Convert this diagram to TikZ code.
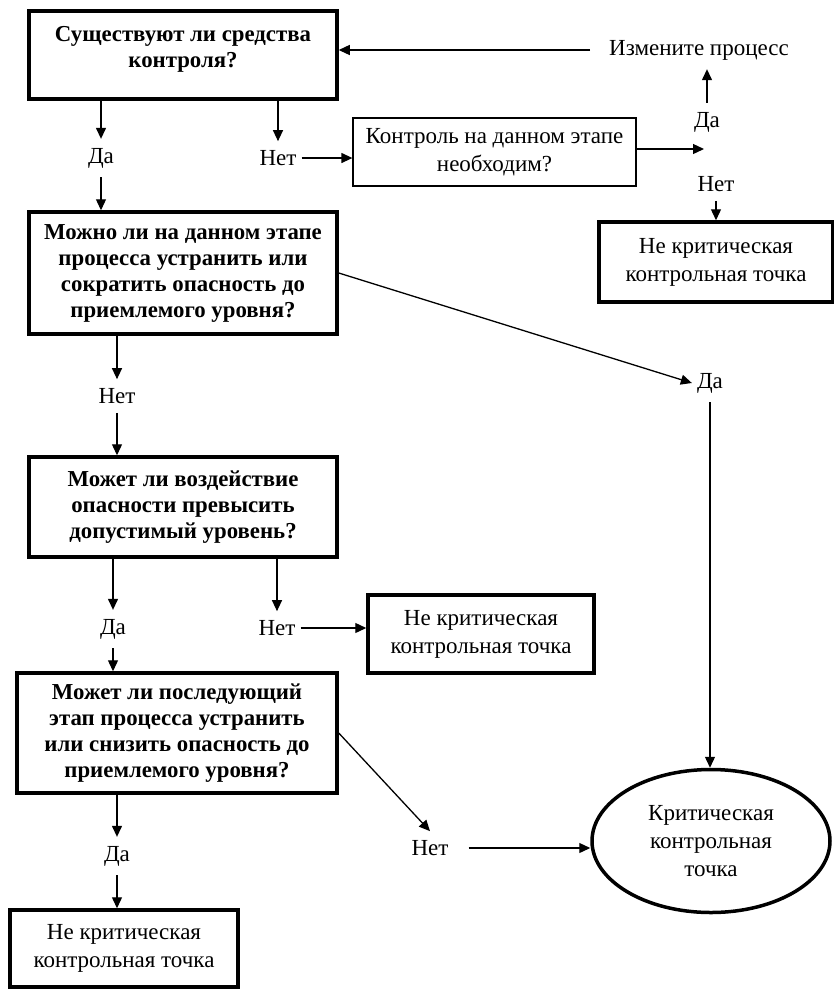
\documentclass[tikz,border=0pt]{standalone}
\usepackage{fontspec}
\setmainfont{Liberation Serif}
\usetikzlibrary{arrows.meta,shapes.geometric}
\begin{document}
\begin{tikzpicture}[x=1pt,y=-1pt,
  font=\fontsize{23}{28}\selectfont,
  box/.style={draw, line width=3.5pt, align=center, inner sep=0pt},
  qbox/.style={box, font=\fontsize{22.8}{26}\selectfont\bfseries},
  tbox/.style={draw, line width=1.3pt, align=center, inner sep=0pt},
  ell/.style={draw, ellipse, line width=3.5pt, align=center, inner sep=0pt},
  lbl/.style={inner xsep=5pt, inner ysep=9pt},
  arr/.style={line width=1.3pt, -{Triangle[length=11pt,width=10pt]}},
]
\useasboundingbox[fill=white] (0,0) rectangle (834,989);

% boxes
\node[qbox, minimum width=308pt, minimum height=88pt, text depth=16pt] (b1) at (183,55) {Существуют ли средства\\контроля?};
\node[tbox, minimum width=283pt, minimum height=68pt] (b2) at (494.5,152) {Контроль на данном этапе\\необходим?};
\node[box, minimum width=234pt, minimum height=80pt] (nk1) at (716,262) {Не критическая\\контрольная точка};
\node[qbox, minimum width=308pt, minimum height=122pt] (b3) at (183,273) {Можно ли на данном этапе\\процесса устранить или\\сократить опасность до\\приемлемого уровня?};
\node[qbox, minimum width=308pt, minimum height=100pt] (b4) at (183,507) {Может ли воздействие\\опасности превысить\\допустимый уровень?};
\node[box, minimum width=226pt, minimum height=78pt] (b5) at (481,634) {Не критическая\\контрольная точка};
\node[qbox, minimum width=320pt, minimum height=120pt] (b6) at (177,733) {Может ли последующий\\этап процесса устранить\\или снизить опасность до\\приемлемого уровня?};
\node[box, minimum width=228pt, minimum height=77pt] (b7) at (124,948.5) {Не критическая\\контрольная точка};
\node[ell, minimum width=238pt, minimum height=143pt] (ell) at (711,841) {Критическая\\контрольная\\точка};

% labels
\node[lbl] (da1) at (101,158) {Да};
\node[lbl] (net1) at (278,158) {Нет};
\node[lbl] (izm) at (699,50) {Измените процесс};
\node[lbl] (da2) at (707,122) {Да};
\node[lbl] (net2) at (716,184) {Нет};
\coordinate (jn) at (704,149);
\node[lbl] (net3) at (117,396) {Нет};
\node[lbl] (da3) at (710,383) {Да};
\node[lbl] (da4) at (113,629) {Да};
\node[lbl] (net4) at (277,628) {Нет};
\node[lbl] (da5) at (117,856) {Да};
\node[lbl] (net5) at (430,848) {Нет};

% connectors
\draw[arr] (b1.south -| da1) -- (da1.north);
\draw[arr] (b1.south -| net1) -- (net1.north);
\draw[arr] (net1.east) -- (net1.east -| b2.west);
\draw[arr] (b2.east |- jn) -- (jn);
\draw[arr] (da2.north) -- (izm.south -| da2);
\draw[arr, shorten <=14pt] (izm.west) -- (izm.west -| b1.east);
\draw[arr] (net2.south) -- (net2.south |- nk1.north);
\draw[arr] (da1.south) -- (b3.north -| da1);
\draw[arr] (b3.south -| net3) -- (net3.north);
\draw[arr] (net3.south) -- (b4.north -| net3);
\draw[arr] (b3.east) -- (da3.west);
\draw[arr] (da3.south) -- (da3.south |- ell.north);
\draw[arr] (b4.south -| da4) -- (da4.north);
\draw[arr] (b4.south -| net4) -- (net4.north);
\draw[arr] (net4.east) -- (net4.east -| b5.west);
\draw[arr] (da4.south) -- (b6.north -| da4);
\draw[arr] (b6.south -| da5) -- (da5.north);
\draw[arr] (da5.south) -- (b7.north -| da5);
\draw[arr] (b6.east) -- (net5.north);
\draw[arr, shorten <=15pt] (net5.east) -- (net5.east -| ell.west);
\end{tikzpicture}
\end{document}
